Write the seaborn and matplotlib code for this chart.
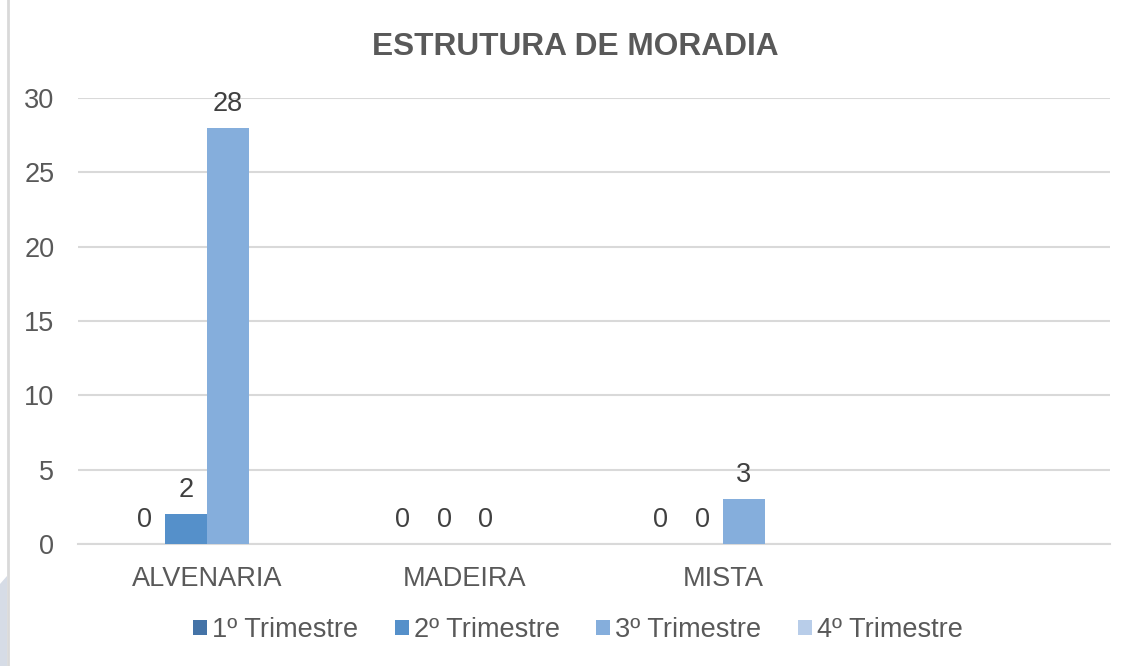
import numpy as np
import pandas as pd
import matplotlib
matplotlib.use('Agg')
import matplotlib.pyplot as plt
import seaborn as sns
from matplotlib.patches import Rectangle, Polygon

# data
categorias = ['ALVENARIA', 'MADEIRA', 'MISTA', '']
trimestres = ['1º Trimestre', '2º Trimestre', '3º Trimestre', '4º Trimestre']
tri1 = [0, 0, 0, np.nan]
tri2 = [2, 0, 0, np.nan]
tri3 = [28, 0, 3, np.nan]
tri4 = [np.nan, np.nan, np.nan, np.nan]
cores = ['#4473A7', '#5590CA', '#85AEDC', '#B8CDE9']

df = pd.DataFrame({'categoria': categorias, trimestres[0]: tri1, trimestres[1]: tri2,
                   trimestres[2]: tri3, trimestres[3]: tri4})
df_long = df.melt(id_vars='categoria', var_name='trimestre', value_name='valor').dropna()

sns.set_theme(style='white')
plt.rcParams['font.family'] = ['Liberation Sans', 'DejaVu Sans']

cinza = '#595959'
grade = '#D9D9D9'
fs = 19.5

fig = plt.figure(figsize=(11.34, 6.66), dpi=100)
ax = fig.add_axes([78/1134, 1-544/666, (1110-78)/1134, (544-98)/666])

sns.barplot(data=df_long, x='categoria', y='valor', hue='trimestre',
            order=categorias, hue_order=trimestres, palette=cores,
            width=0.65, errorbar=None, saturation=1, linewidth=0,
            ax=ax, zorder=3)

for c in ax.containers:
    ax.bar_label(c, padding=8, fontsize=fs, color='#404040')

ax.set_xlim(-0.5, 3.5)
ax.set_ylim(0, 30)
ax.set_yticks([0, 5, 10, 15, 20, 25, 30])
ax.yaxis.grid(True, color=grade, linewidth=1.5, zorder=0)
ax.set_axisbelow(True)
for s in ['top', 'right', 'left']:
    ax.spines[s].set_visible(False)
ax.spines['bottom'].set_color(grade)
ax.spines['bottom'].set_linewidth(1.5)
ax.tick_params(axis='both', length=0, labelsize=fs, labelcolor=cinza)
ax.tick_params(axis='x', pad=16)
ax.tick_params(axis='y', pad=17)
ax.set_xlabel('')
ax.set_ylabel('')

handles, labels = ax.get_legend_handles_labels()
ax.legend_.remove()
fig.legend(handles, labels, loc='center', bbox_to_anchor=(578/1134, 1-630/666),
           ncol=4, frameon=False, fontsize=fs, labelcolor=cinza,
           handlelength=0.52, handleheight=0.52, handletextpad=0.18, columnspacing=1.35)

fig.text(575/1134, 1-47/666, 'ESTRUTURA DE MORADIA', ha='center', va='center',
         fontsize=22.8, fontweight='bold', color=cinza)

# chart frame, cropped on the right and bottom
fig.patches.append(Rectangle((8/1134, -0.1), 1.2, 1.1 + (1-7/666), transform=fig.transFigure,
                             fill=False, edgecolor=grade, linewidth=2))
fig.patches.append(Polygon([(0, 1-584/666), (7/1134, 1-576/666), (7/1134, 0), (0, 0)],
                           closed=True, transform=fig.transFigure,
                           facecolor='#D6DCE6', edgecolor='none'))

fig.savefig('out.png', dpi=100)
